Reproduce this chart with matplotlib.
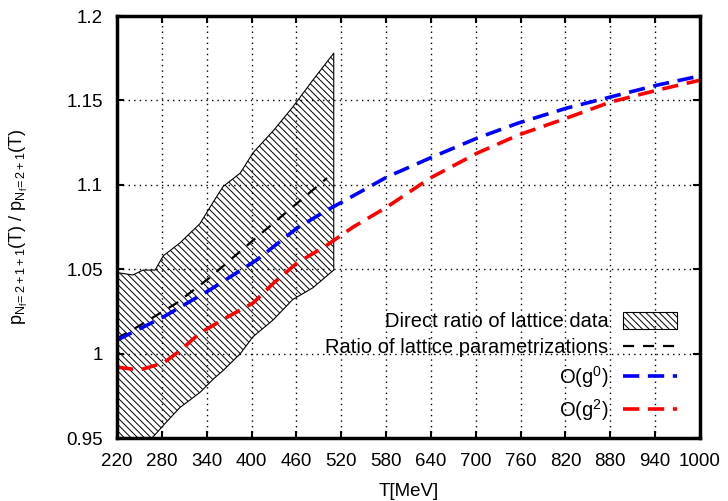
import numpy as np
import matplotlib.pyplot as plt

plt.rcParams['font.family'] = ['Liberation Sans', 'DejaVu Sans']
plt.rcParams['mathtext.fontset'] = 'custom'
plt.rcParams['mathtext.rm'] = 'Liberation Sans'
plt.rcParams['mathtext.it'] = 'Liberation Sans:italic'
plt.rcParams['hatch.linewidth'] = 0.7

# lattice band (direct ratio of lattice data)
T_band = [220, 241, 255, 271, 282, 304, 331, 349, 362, 385, 402, 429, 455, 482, 510]
band_hi = [1.048, 1.0466, 1.0495, 1.0495, 1.058, 1.0655, 1.077, 1.090, 1.099, 1.107,
           1.119, 1.132, 1.146, 1.162, 1.178]
band_lo = [0.925, 0.936, 0.945, 0.952, 0.9575, 0.968, 0.977, 0.985, 0.990, 1.000,
           1.010, 1.020, 1.032, 1.039, 1.0495]

# ratio of lattice parametrizations
T_param = [220, 248, 300, 344, 407, 450, 501]
r_param = [1.009, 1.016, 1.030, 1.045, 1.069, 1.085, 1.104]

# O(g^0)
T_g0 = [220, 282, 344, 407, 461, 501, 522, 581, 639, 702, 757, 822, 880, 942, 1000]
r_g0 = [1.008, 1.0217, 1.0377, 1.0555, 1.0744, 1.085, 1.090, 1.1046, 1.1159, 1.1277,
        1.1366, 1.1455, 1.152, 1.159, 1.1645]

# O(g^2)
T_g2 = [220, 250, 282, 305, 331, 365, 402, 430, 461, 501, 536, 581, 639, 702, 757,
        822, 880, 942, 1000]
r_g2 = [0.992, 0.9903, 0.9944, 1.002, 1.0122, 1.021, 1.030, 1.042, 1.0537, 1.0643,
        1.075, 1.0868, 1.104, 1.1188, 1.1295, 1.1396, 1.149, 1.156, 1.162]

xticks = np.arange(220, 1001, 60)
yticks = [0.95, 1.0, 1.05, 1.1, 1.15, 1.2]
ytick_labels = ['0.95', '1', '1.05', '1.1', '1.15', '1.2']

fig = plt.figure(figsize=(7.28, 5.01), dpi=100)
ax = fig.add_axes([0.1607, 0.1257, 0.8008, 0.8423])

ax.fill_between(T_band, band_lo, band_hi, facecolor='none', edgecolor='black',
                hatch='\\' * 5, linewidth=0.8, label='Direct ratio of lattice data')
ax.plot(T_param, r_param, color='black', lw=1.6, dashes=(5, 4),
        label='Ratio of lattice parametrizations')
ax.plot(T_g0, r_g0, color='blue', lw=2.6, dashes=(4.5, 2.4), label=r'O(g$^0$)')
ax.plot(T_g2, r_g2, color='red', lw=2.6, dashes=(4.5, 2.4), label=r'O(g$^2$)')

ax.set_xlim(220, 1000)
ax.set_ylim(0.95, 1.2)
ax.set_xticks(xticks)
ax.set_yticks(yticks)
ax.set_yticklabels(ytick_labels)
ax.tick_params(direction='in', length=5, width=1.5, top=True, right=True,
               labelsize=13.5)
ax.tick_params(axis='x', pad=11)
ax.tick_params(axis='y', pad=10)
ax.grid(True, color='black', linestyle=(0, (1, 3)), linewidth=1.0)
for s in ax.spines.values():
    s.set_linewidth(2.5)

ax.set_xlabel('T[MeV]', fontsize=13.5, labelpad=9)
ax.set_ylabel(r'$\mathrm{p_{N_f\!=2+1+1}(T)\ /\ p_{N_f\!=2+1}(T)}$', fontsize=13,
              labelpad=26)

leg = ax.legend(loc='lower right', bbox_to_anchor=(0.995, -0.012), frameon=False,
                markerfirst=False, fontsize=14.5, handlelength=2.7, handleheight=0.9,
                labelspacing=0.34, borderaxespad=0.6, handletextpad=0.7)

plt.savefig('out.png', dpi=100)
